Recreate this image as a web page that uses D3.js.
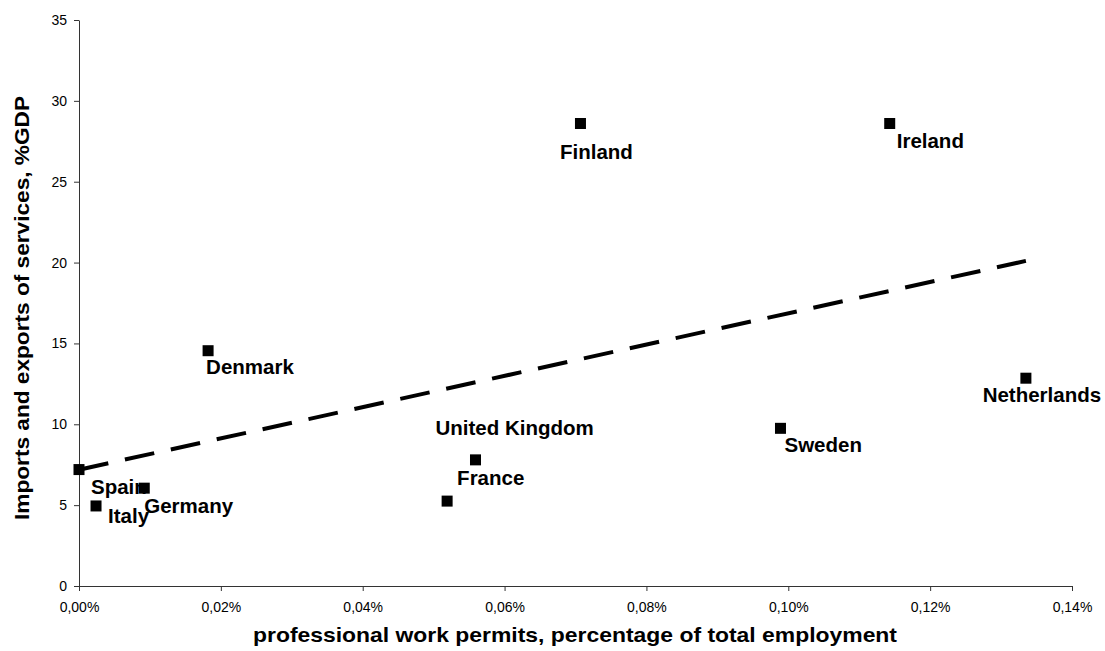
<!DOCTYPE html>
<html><head><meta charset="utf-8">
<script src="https://cdn.jsdelivr.net/npm/d3@7"></script>
<style>body{margin:0;background:#fff;}svg{display:block;font-family:"Liberation Sans",Arial,sans-serif;}</style>
</head><body>
<svg id="c" width="1105" height="651"></svg>
<script>
const countries = ["Spain","Italy","Germany","Denmark","France","United Kingdom","Finland","Sweden","Ireland","Netherlands"];
const permits = [0.0000, 0.0024, 0.0092, 0.0182, 0.0519, 0.0559, 0.0707, 0.0989, 0.1143, 0.1335];
const services = [7.2, 4.95, 6.05, 14.55, 5.25, 7.8, 28.6, 9.75, 28.6, 12.85];
// label offsets relative to marker (dx, dy of text start / baseline), and anchor
const labelDx = [12, 12, 0, -2, 10, -40, 16, 4, 7, 16];
const labelDy = [24, 17, 25, 23, -16, -25, 36, 24, 25, 24];
const labelAnchor = ["start","start","start","start","start","start","middle","start","start","middle"];
const xTicks = [0,0.02,0.04,0.06,0.08,0.10,0.12,0.14];
const yTicks = [0,5,10,15,20,25,30,35];

const svg = d3.select("#c");
const x = d3.scaleLinear().domain([0,0.14]).range([79,1072]);
const y = d3.scaleLinear().domain([0,35]).range([586,20]);

const fmt = v => d3.format(".2f")(v).replace(".", ",") + "%";

svg.append("g").attr("transform","translate(0,586)")
  .call(d3.axisBottom(x).tickValues(xTicks).tickFormat(fmt).tickSize(5).tickPadding(11).tickSizeOuter(0))
  .call(g=>{g.select(".domain").attr("stroke","#333");g.selectAll(".tick line").attr("stroke","#333");
    g.selectAll("text").attr("font-size",14).attr("fill","#000").attr("font-family","Liberation Sans, Arial, sans-serif");});
svg.append("g").attr("transform","translate(79,0)")
  .call(d3.axisLeft(y).tickValues(yTicks).tickSize(5).tickPadding(7).tickSizeOuter(0))
  .call(g=>{g.select(".domain").attr("stroke","#333");g.selectAll(".tick line").attr("stroke","#333");
    g.selectAll("text").attr("font-size",14).attr("fill","#000").attr("font-family","Liberation Sans, Arial, sans-serif");});

// regression trendline
const n = permits.length;
const mx = d3.mean(permits), my = d3.mean(services);
let sxy=0, sxx=0;
for(let i=0;i<n;i++){sxy+=(permits[i]-mx)*(services[i]-my);sxx+=(permits[i]-mx)**2;}
const slope = sxy/sxx, icpt = my - slope*mx;
const x0 = d3.min(permits), x1 = d3.max(permits);
svg.append("line")
  .attr("x1",x(x0)).attr("y1",y(icpt+slope*x0))
  .attr("x2",x(x1)).attr("y2",y(icpt+slope*x1))
  .attr("stroke","#000").attr("stroke-width",4).attr("stroke-dasharray","30,17");

const data = countries.map((c,i)=>({c, x:permits[i], y:services[i], dx:labelDx[i], dy:labelDy[i], a:labelAnchor[i]}));
svg.selectAll("rect.m").data(data).join("rect").attr("class","m")
  .attr("x",d=>x(d.x)-5.5).attr("y",d=>y(d.y)-5.5).attr("width",11).attr("height",11).attr("fill","#000");
svg.selectAll("text.lab").data(data).join("text").attr("class","lab")
  .attr("x",d=>x(d.x)+d.dx).attr("y",d=>y(d.y)+d.dy).attr("text-anchor",d=>d.a)
  .attr("font-size",20.5).attr("font-weight","bold").attr("fill","#000").text(d=>d.c);

svg.append("text").attr("x",575).attr("y",642).attr("text-anchor","middle")
  .attr("font-size",21).attr("font-weight","bold")
  .attr("textLength",644).attr("lengthAdjust","spacingAndGlyphs")
  .text("professional work permits, percentage of total employment");
svg.append("text").attr("transform","translate(29,308) rotate(-90)").attr("text-anchor","middle")
  .attr("font-size",21).attr("font-weight","bold")
  .attr("textLength",424).attr("lengthAdjust","spacingAndGlyphs")
  .text("Imports and exports of services, %GDP");
</script>
</body></html>
